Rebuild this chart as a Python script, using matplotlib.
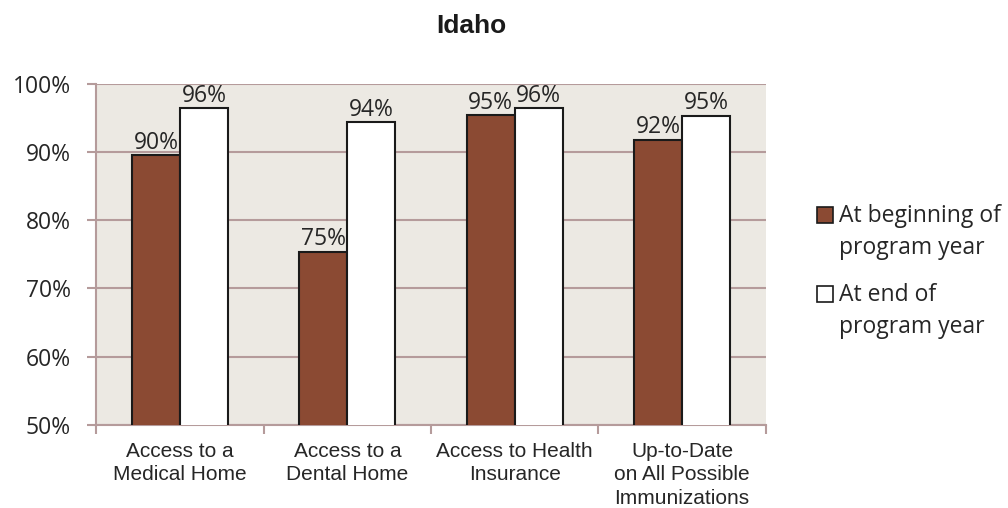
import numpy as np
import matplotlib.pyplot as plt

categories = ['Access to a\nMedical Home', 'Access to a\nDental Home',
              'Access to Health\nInsurance', 'Up-to-Date\non All Possible\nImmunizations']
begin_vals = [89.5, 75.4, 95.4, 91.8]
end_vals = [96.4, 94.4, 96.4, 95.3]
series_names = ['At beginning of\nprogram year', 'At end of\nprogram year']
yticks = [50, 60, 70, 80, 90, 100]

brown = '#8B4A33'
grid_col = '#B59B9B'
bg = '#ECE9E3'
lab_font = 'Open Sans'

fig = plt.figure(figsize=(10.08, 5.08), dpi=100)
ax = fig.add_axes([0.0957, 0.1634, 0.664, 0.6722])
ax.set_facecolor(bg)

x = np.arange(len(categories))
w = 0.287
b1 = ax.bar(x - w/2, begin_vals, w, color=brown, edgecolor='#1a1a1a', linewidth=1.5, zorder=3)
b2 = ax.bar(x + w/2, end_vals, w, color='white', edgecolor='#1a1a1a', linewidth=1.5, zorder=3)

for bars, vals in ((b1, begin_vals), (b2, end_vals)):
    for r, v in zip(bars, vals):
        ax.annotate('%d%%' % round(v), (r.get_x() + r.get_width()/2, v),
                    xytext=(0, 4.5), textcoords='offset points', ha='center', va='baseline',
                    fontsize=16.5, family=lab_font, color='#262626', zorder=4)

ax.set_ylim(50, 100)
ax.set_xlim(-0.5, len(categories) - 0.5)
ax.set_yticks(yticks)
ax.set_yticklabels(['%d%%' % t for t in yticks], fontsize=16.5, family=lab_font, color='#262626')
ax.yaxis.grid(True, color=grid_col, linewidth=1.5, zorder=0)
ax.set_axisbelow(True)

# category boundaries as ticks, names at the centres
ax.set_xticks(np.arange(len(categories) + 1) - 0.5)
ax.set_xticklabels([])
ax.set_xticks(x, minor=True)
ax.set_xticklabels(categories, minor=True, fontsize=15, family='Liberation Sans',
                   color='#262626', va='top', linespacing=1.32)
ax.tick_params(axis='x', which='minor', length=0, pad=12)
ax.tick_params(axis='x', which='major', length=6.5, width=1.5, color=grid_col)
ax.tick_params(axis='y', length=6.5, width=1.5, color=grid_col, pad=12)

for s in ['top', 'right']:
    ax.spines[s].set_visible(False)
for s in ['left', 'bottom']:
    ax.spines[s].set_color(grid_col)
    ax.spines[s].set_linewidth(1.5)

fig.text(0.468, 0.935, 'Idaho', ha='center', va='baseline', fontsize=19,
         fontweight='bold', family='Liberation Sans', color='#1a1a1a')

leg = fig.legend([b1, b2], series_names, loc='upper left', bbox_to_anchor=(0.79, 0.64),
                 frameon=False, handlelength=0.68, handleheight=0.68, handletextpad=0.3,
                 labelspacing=1.0, prop={'family': lab_font, 'size': 16.5})
for t in leg.get_texts():
    t.set_color('#262626')
    t.set_linespacing(1.45)
# put the swatch level with the first line of its label
for h in leg.legend_handles:
    h.set_linewidth(1.2)
    h.set_y(h.get_y() + 12.5)

fig.savefig('out.png', dpi=100)
